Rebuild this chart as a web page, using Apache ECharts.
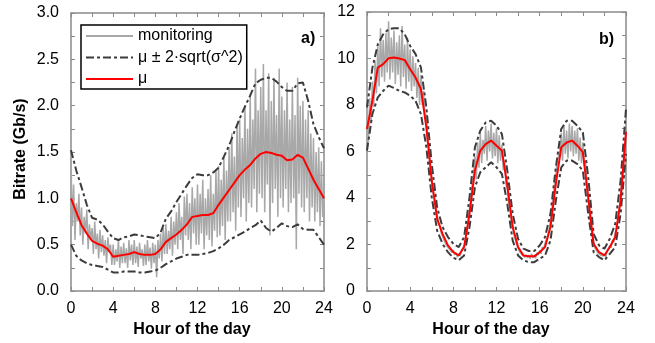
<!DOCTYPE html>
<html><head><meta charset="utf-8">
<script src="https://cdn.jsdelivr.net/npm/echarts@6/dist/echarts.min.js"></script>
<style>html,body{margin:0;padding:0;background:#fff}#c{width:655px;height:343px}</style>
</head><body><div id="c"></div>
<script>
// ---- data ----
const monitorStep = 1 / 8;   // hours between monitoring samples (7.5 min)
const statStep = 0.5;        // hours between mean / bound samples
const seriesNames = ['monitoring', 'μ ± 2·sqrt(σ^2)', 'μ'];

// panel a) Gb/s
const aMonitoring = [
  1.40,0.70,1.15,0.55,0.95,0.75,1.05,0.60,
  0.90,0.50,0.80,0.62,0.88,0.45,0.72,0.55,
  0.68,0.40,0.75,0.45,0.62,0.35,0.66,0.42,
  0.60,0.38,0.55,0.30,0.58,0.42,0.50,0.28,
  0.50,0.28,0.45,0.32,0.55,0.25,0.48,0.30,
  0.52,0.30,0.46,0.25,0.55,0.33,0.50,0.28,
  0.55,0.30,0.48,0.26,0.52,0.35,0.45,0.27,
  0.50,0.28,0.55,0.32,0.47,0.24,0.52,0.30,
  0.50,0.15,0.55,0.35,0.62,0.32,0.68,0.40,
  0.72,0.40,0.65,0.45,0.80,0.38,0.75,0.50,
  0.85,0.45,0.95,0.55,0.80,0.40,1.02,0.60,
  1.05,0.55,0.95,0.45,1.12,0.62,1.00,0.50,
  1.15,0.50,1.05,0.62,1.20,0.45,1.00,0.60,
  1.10,0.55,1.25,0.48,1.05,0.65,1.30,0.58,
  1.35,0.60,1.20,0.70,1.45,0.55,1.30,0.75,
  1.55,0.75,1.70,0.85,1.45,0.65,1.80,0.90,
  1.85,0.80,1.65,1.00,2.00,0.75,1.75,0.95,
  2.10,0.90,1.85,1.10,2.40,0.85,1.95,1.05,
  2.20,1.00,2.45,0.85,1.95,1.15,2.35,0.60,
  2.05,0.95,2.30,1.10,1.90,0.80,2.40,1.00,
  2.10,0.90,1.95,1.10,2.25,0.85,1.85,0.95,
  2.20,1.00,1.90,0.45,2.30,1.05,2.00,0.90,
  2.05,0.85,1.85,1.00,1.95,0.75,1.70,0.90,
  1.65,0.75,1.50,0.85,1.55,0.70,1.40,0.80,
  1.00
];
const aMean = [1.00,0.85,0.71,0.62,0.54,0.51,0.49,0.45,0.37,0.38,0.39,0.40,0.42,0.40,0.39,0.39,0.40,0.45,0.53,0.57,0.61,0.66,0.72,0.80,0.81,0.82,0.82,0.84,0.93,1.01,1.09,1.17,1.25,1.31,1.36,1.43,1.48,1.50,1.49,1.47,1.46,1.41,1.42,1.47,1.44,1.32,1.20,1.10,1.00];
const aUpper = [1.52,1.30,1.12,0.93,0.79,0.77,0.72,0.64,0.57,0.55,0.58,0.59,0.61,0.60,0.59,0.58,0.57,0.63,0.78,0.86,0.96,1.05,1.14,1.22,1.26,1.25,1.25,1.28,1.33,1.45,1.57,1.72,1.86,1.99,2.11,2.24,2.28,2.30,2.30,2.26,2.20,2.16,2.16,2.24,2.25,2.05,1.80,1.66,1.54];
const aLower = [0.50,0.38,0.33,0.30,0.28,0.27,0.26,0.23,0.20,0.20,0.21,0.21,0.21,0.20,0.20,0.21,0.22,0.25,0.29,0.32,0.35,0.37,0.39,0.39,0.39,0.40,0.41,0.43,0.46,0.50,0.55,0.58,0.61,0.64,0.68,0.71,0.76,0.68,0.64,0.68,0.73,0.70,0.69,0.72,0.67,0.66,0.66,0.58,0.50];

// panel b)
const bMonitoring = [
  7.4,6.4,8.3,7.2,9.0,7.9,9.9,8.5,
  10.5,8.8,11.3,9.2,10.8,9.0,11.1,9.4,
  11.6,9.1,10.9,9.4,11.2,8.9,10.7,9.3,
  11.0,8.8,11.4,9.2,10.6,8.7,10.9,9.0,
  10.4,8.6,10.1,8.8,9.8,8.3,9.6,8.0,
  9.3,8.0,8.6,7.4,7.6,6.5,6.2,5.3,
  4.9,4.2,4.1,3.5,3.3,2.9,2.8,2.5,
  2.5,2.2,2.2,1.95,2.0,1.8,1.85,1.65,
  1.75,1.55,1.65,1.45,1.6,1.5,1.75,1.7,
  1.95,2.2,2.5,3.0,3.5,4.0,4.6,5.0,
  5.8,4.8,6.4,5.3,6.8,5.5,6.5,5.9,
  7.1,5.6,6.9,6.0,7.2,5.7,6.8,5.8,
  7.0,5.5,6.7,5.6,6.3,5.2,5.6,4.6,
  4.4,3.8,3.6,3.0,2.8,2.4,2.2,2.0,
  1.95,1.7,1.75,1.55,1.6,1.45,1.55,1.42,
  1.55,1.38,1.6,1.42,1.55,1.40,1.65,1.55,
  1.75,1.6,1.9,1.8,2.05,2.1,2.4,2.6,
  3.0,3.5,4.0,4.6,5.0,5.6,5.8,6.0,
  6.8,5.6,7.1,5.9,6.9,5.7,7.2,6.0,
  7.1,5.8,6.9,5.9,7.0,5.6,6.6,5.5,
  6.4,5.4,5.6,4.6,4.0,3.3,2.8,2.3,
  2.1,1.85,1.9,1.65,1.7,1.55,1.6,1.5,
  1.6,1.45,1.75,1.7,1.95,1.85,2.2,2.1,
  2.5,2.7,3.0,3.5,4.1,4.8,5.5,6.2,
  6.8
];
const bMean = [6.97,8.18,9.61,9.76,10.01,10.04,10.00,9.93,9.54,9.18,8.68,7.04,4.75,3.10,2.46,1.96,1.67,1.53,1.89,3.32,5.18,6.04,6.32,6.47,6.25,6.04,4.54,2.75,1.89,1.53,1.49,1.49,1.67,1.89,2.75,4.61,6.18,6.39,6.47,6.25,5.97,4.03,2.03,1.67,1.53,1.89,2.32,3.89,6.85];
const bUpper = [7.90,9.60,10.60,11.04,11.26,11.30,11.30,11.04,10.54,10.19,9.61,7.90,5.46,3.60,2.75,2.32,2.03,1.89,2.32,4.03,6.18,6.90,7.25,7.32,7.11,6.75,5.18,3.32,2.25,1.82,1.72,1.72,1.96,2.32,3.32,5.32,6.97,7.32,7.32,7.11,6.82,4.89,2.46,1.96,1.82,2.25,2.89,4.75,7.83];
const bLower = [6.04,7.61,8.33,8.61,8.83,8.73,8.61,8.54,8.40,8.18,7.61,6.18,4.03,2.60,2.03,1.67,1.43,1.32,1.53,2.75,4.46,5.11,5.32,5.54,5.32,5.04,3.75,2.17,1.53,1.32,1.24,1.24,1.39,1.53,2.17,3.89,5.32,5.61,5.61,5.46,5.18,3.32,1.67,1.46,1.32,1.60,1.89,3.32,5.90];

// ---- chart ----
const FONT = 'Liberation Sans, Arial, sans-serif';
const AXIS_COLOR = '#8a8a8a';
function pairs(vals, step) { return vals.map((v, i) => [+(i * step).toFixed(5), v]); }

function xAx(grid, pos, show) {
  return {
    type: 'value', gridIndex: grid, position: pos, min: 0, max: 24, interval: 4,
    name: show ? 'Hour of the day' : '', nameLocation: 'middle', nameGap: 31,
    nameTextStyle: { fontFamily: FONT, fontSize: 16, fontWeight: 'bold', color: '#000', padding: [0, 11, 0, 0] },
    axisLine: { show: true, onZero: false, lineStyle: { color: AXIS_COLOR, width: 1.5 } },
    axisTick: { show: true, inside: true, length: 4, lineStyle: { color: AXIS_COLOR } },
    minorTick: { show: true, splitNumber: 2, length: 4, lineStyle: { color: AXIS_COLOR } },
    axisLabel: { show: show, margin: 10, fontFamily: FONT, fontSize: 16, color: '#000' },
    splitLine: { show: false }
  };
}
function yAx(grid, pos, show, max, interval, dec, name) {
  return {
    type: 'value', gridIndex: grid, position: pos, min: 0, max: max, interval: interval,
    name: name || '', nameLocation: 'middle', nameGap: 42,
    nameTextStyle: { fontFamily: FONT, fontSize: 16, fontWeight: 'bold', color: '#000', padding: [0, 0, 0, 6] },
    axisLine: { show: true, onZero: false, lineStyle: { color: AXIS_COLOR, width: 1.5 } },
    axisTick: { show: true, inside: true, length: 4, lineStyle: { color: AXIS_COLOR } },
    minorTick: { show: true, splitNumber: 2, length: 4, lineStyle: { color: AXIS_COLOR } },
    axisLabel: { show: show, margin: 12, fontFamily: FONT, fontSize: 16, color: '#000',
      formatter: v => v.toFixed(dec) },
    splitLine: { show: false }
  };
}
function grayLine(xi, yi, vals) {
  return { name: seriesNames[0], type: 'line', xAxisIndex: xi, yAxisIndex: yi, data: pairs(vals, monitorStep),
    showSymbol: false, symbol: 'none', animation: false, z: 1,
    lineStyle: { color: '#a8a8a8', width: 1.5 }, itemStyle: { color: '#a8a8a8' } };
}
function dashLine(xi, yi, vals) {
  return { name: seriesNames[1], type: 'line', xAxisIndex: xi, yAxisIndex: yi, data: pairs(vals, statStep),
    showSymbol: false, symbol: 'none', animation: false, z: 2,
    lineStyle: { color: '#3c3c3c', width: 2, type: [8, 3, 3, 3] }, itemStyle: { color: '#3c3c3c' } };
}
function redLine(xi, yi, vals) {
  return { name: seriesNames[2], type: 'line', xAxisIndex: xi, yAxisIndex: yi, data: pairs(vals, statStep),
    showSymbol: false, symbol: 'none', animation: false, z: 3,
    lineStyle: { color: '#ff0000', width: 2 }, itemStyle: { color: '#ff0000' } };
}

const chart = echarts.init(document.getElementById('c'), null, { renderer: 'canvas' });
chart.setOption({
  animation: false,
  backgroundColor: '#fff',
  grid: [
    { left: 71, top: 13, width: 253, height: 278 },
    { left: 367, top: 12, width: 259, height: 279 }
  ],
  xAxis: [xAx(0, 'bottom', true), xAx(0, 'top', false), xAx(1, 'bottom', true), xAx(1, 'top', false)],
  yAxis: [
    yAx(0, 'left', true, 3, 0.5, 1, 'Bitrate (Gb/s)'), yAx(0, 'right', false, 3, 0.5, 1),
    yAx(1, 'left', true, 12, 2, 0), yAx(1, 'right', false, 12, 2, 0)
  ],
  legend: {
    data: seriesNames, orient: 'vertical', left: 81, top: 25,
    backgroundColor: '#fff', borderColor: '#000', borderWidth: 1.5, borderRadius: 0,
    padding: [2, 4, 1, 4], itemWidth: 47, itemHeight: 2, itemGap: 3.5,
    textStyle: { fontFamily: FONT, fontSize: 16, color: '#000', lineHeight: 18, height: 18 },
    selectedMode: false, z: 10
  },
  graphic: [
    { type: 'text', left: 301, top: 31, style: { text: 'a)', font: 'bold 16px ' + FONT, fill: '#000' } },
    { type: 'text', left: 599, top: 32, style: { text: 'b)', font: 'bold 16px ' + FONT, fill: '#000' } }
  ],
  series: [
    grayLine(0, 0, aMonitoring), dashLine(0, 0, aUpper), dashLine(0, 0, aLower), redLine(0, 0, aMean),
    grayLine(2, 2, bMonitoring), dashLine(2, 2, bUpper), dashLine(2, 2, bLower), redLine(2, 2, bMean)
  ]
});
</script></body></html>
